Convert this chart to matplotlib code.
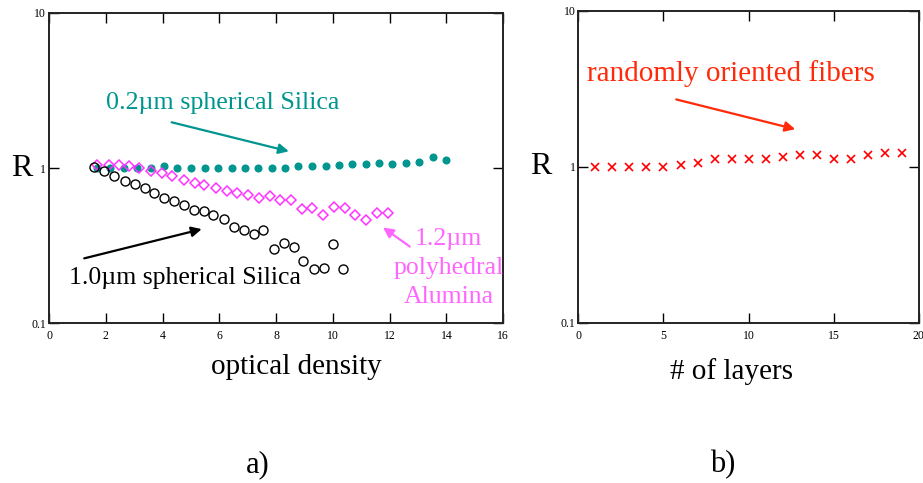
import numpy as np
import matplotlib
matplotlib.use('Agg')
from matplotlib import pyplot as plt
from matplotlib.ticker import FixedLocator, FixedFormatter, NullLocator

# panel a) data
od_02 = [1.70, 2.15, 2.64, 3.11, 3.58, 4.05, 4.52, 5.02, 5.49, 5.96, 6.43, 6.90, 7.37,
         7.84, 8.31, 8.78, 9.25, 9.75, 10.22, 10.69, 11.16, 11.63, 12.10, 12.57,
         13.04, 13.53, 13.98]
r_02 = [1.0, 1.0, 1.0, 1.0, 1.0, 1.025, 1.0, 1.0, 1.0, 1.0, 1.0, 1.0, 1.0,
        1.0, 1.0, 1.025, 1.025, 1.025, 1.04, 1.055, 1.055, 1.077, 1.055, 1.077,
        1.087, 1.18, 1.13]

od_12 = [1.68, 2.12, 2.48, 2.83, 3.18, 3.58, 3.97, 4.35, 4.75, 5.14, 5.47, 5.87, 6.26,
         6.64, 7.02, 7.41, 7.78, 8.13, 8.51, 8.90, 9.28, 9.66, 10.05, 10.42, 10.77,
         11.16, 11.56, 11.95]
r_12 = [1.04, 1.04, 1.04, 1.025, 1.0, 0.961, 0.928, 0.883, 0.84, 0.80, 0.773, 0.743,
        0.707, 0.69, 0.673, 0.64, 0.656, 0.625, 0.618, 0.543, 0.552, 0.50, 0.565,
        0.552, 0.50, 0.464, 0.513, 0.513]

od_10 = [1.60, 1.95, 2.30, 2.69, 3.02, 3.37, 3.71, 4.05, 4.41, 4.77, 5.11, 5.45, 5.79,
         6.16, 6.53, 6.87, 7.21, 7.55, 7.93, 8.27, 8.62, 8.96, 9.34, 9.68, 10.01, 10.36]
r_10 = [1.015, 0.952, 0.892, 0.828, 0.784, 0.743, 0.69, 0.643, 0.612, 0.577, 0.538,
        0.528, 0.50, 0.473, 0.416, 0.396, 0.375, 0.398, 0.303, 0.33, 0.308, 0.251,
        0.223, 0.227, 0.325, 0.223]

# panel b)
layers = list(range(1, 20))
r_fib = [1.0, 1.0, 1.0, 1.0, 1.0, 1.025, 1.06, 1.114, 1.114, 1.114, 1.114, 1.148,
         1.188, 1.188, 1.114, 1.114, 1.188, 1.217, 1.217]

teal = '#00968f'
pink = '#ff33ff'
pink_txt = '#ff66ff'
red = '#ff2a0a'

plt.rcParams['font.family'] = ['Liberation Serif', 'DejaVu Serif']

fig = plt.figure(figsize=(9.23, 4.83), dpi=100)
ax1 = fig.add_axes([0.0531, 0.3306, 0.4920, 0.6431])
ax2 = fig.add_axes([0.6266, 0.3319, 0.3689, 0.6459])


def style(ax, xmax, xticks, rx):
    ax.set_yscale('log')
    ax.set_ylim(0.1, 10)
    ax.set_xlim(0, xmax)
    ax.yaxis.set_major_locator(FixedLocator([0.1, 1, 10]))
    ax.yaxis.set_major_formatter(FixedFormatter(['0.1', '1', '10']))
    ax.yaxis.set_minor_locator(NullLocator())
    ax.set_xticks(xticks)
    ax.tick_params(direction='in', length=7.5, width=1, labelsize=8.5,
                   top=True, right=True, pad=5)
    ax.tick_params(axis='y', pad=2)
    for s in ax.spines.values():
        s.set_linewidth(1.4)
        s.set_color('#222222')
    ax.set_ylabel('R', fontsize=23, rotation=0, ha='center', va='center')
    ax.yaxis.set_label_coords(rx, 0.5)


style(ax1, 16, list(range(0, 17, 2)), -0.06)
style(ax2, 20, [0, 5, 10, 15, 20], -0.11)

ax1.plot(od_02, r_02, 'o', color=teal, ms=4.8, mec=teal)
ax1.plot(od_12, r_12, 'D', color=pink, ms=5.2, mfc='none', mew=1.1)
ax1.plot(od_10, r_10, 'o', color='black', ms=6.5, mfc='none', mew=1.0)
ax1.set_xlabel('optical density', fontsize=21, va='center')
ax1.xaxis.set_label_coords(0.545, -0.14)


def arrow(ax, tail, head, c):
    ax.annotate('', xy=head, xytext=tail,
                arrowprops=dict(arrowstyle='-|>', color=c, lw=1.6,
                                mutation_scale=15, shrinkA=0, shrinkB=0))


ax1.text(6.13, 2.64, '0.2µm spherical Silica', color=teal, fontsize=18.7,
         ha='center', va='center')
arrow(ax1, (4.32, 1.97), (8.45, 1.28), teal)
ax1.text(4.79, 0.196, '1.0µm spherical Silica', color='black', fontsize=18.5,
         ha='center', va='center')
arrow(ax1, (1.24, 0.262), (5.38, 0.404), 'black')
ax1.text(14.08, 0.227, '1.2µm\npolyhedral\nAlumina', color=pink_txt, fontsize=18.5,
         ha='center', va='center', linespacing=1.4)
arrow(ax1, (12.71, 0.312), (11.77, 0.414), pink_txt)

ax2.plot(layers, r_fib, 'x', color='#ff0000', ms=6, mew=1.2)
ax2.set_xlabel('# of layers', fontsize=21, va='center')
ax2.xaxis.set_label_coords(0.45, -0.155)
ax2.text(8.96, 3.97, 'randomly oriented fibers', color=red, fontsize=21,
         ha='center', va='center')
arrow(ax2, (5.75, 2.70), (12.74, 1.74), red)

fig.text(258 / 923, 1 - 465 / 483, 'a)', fontsize=22, ha='center', va='center')
fig.text(723 / 923, 1 - 465 / 483, 'b)', fontsize=22, ha='center', va='center')

fig.savefig('out.png', dpi=100)
